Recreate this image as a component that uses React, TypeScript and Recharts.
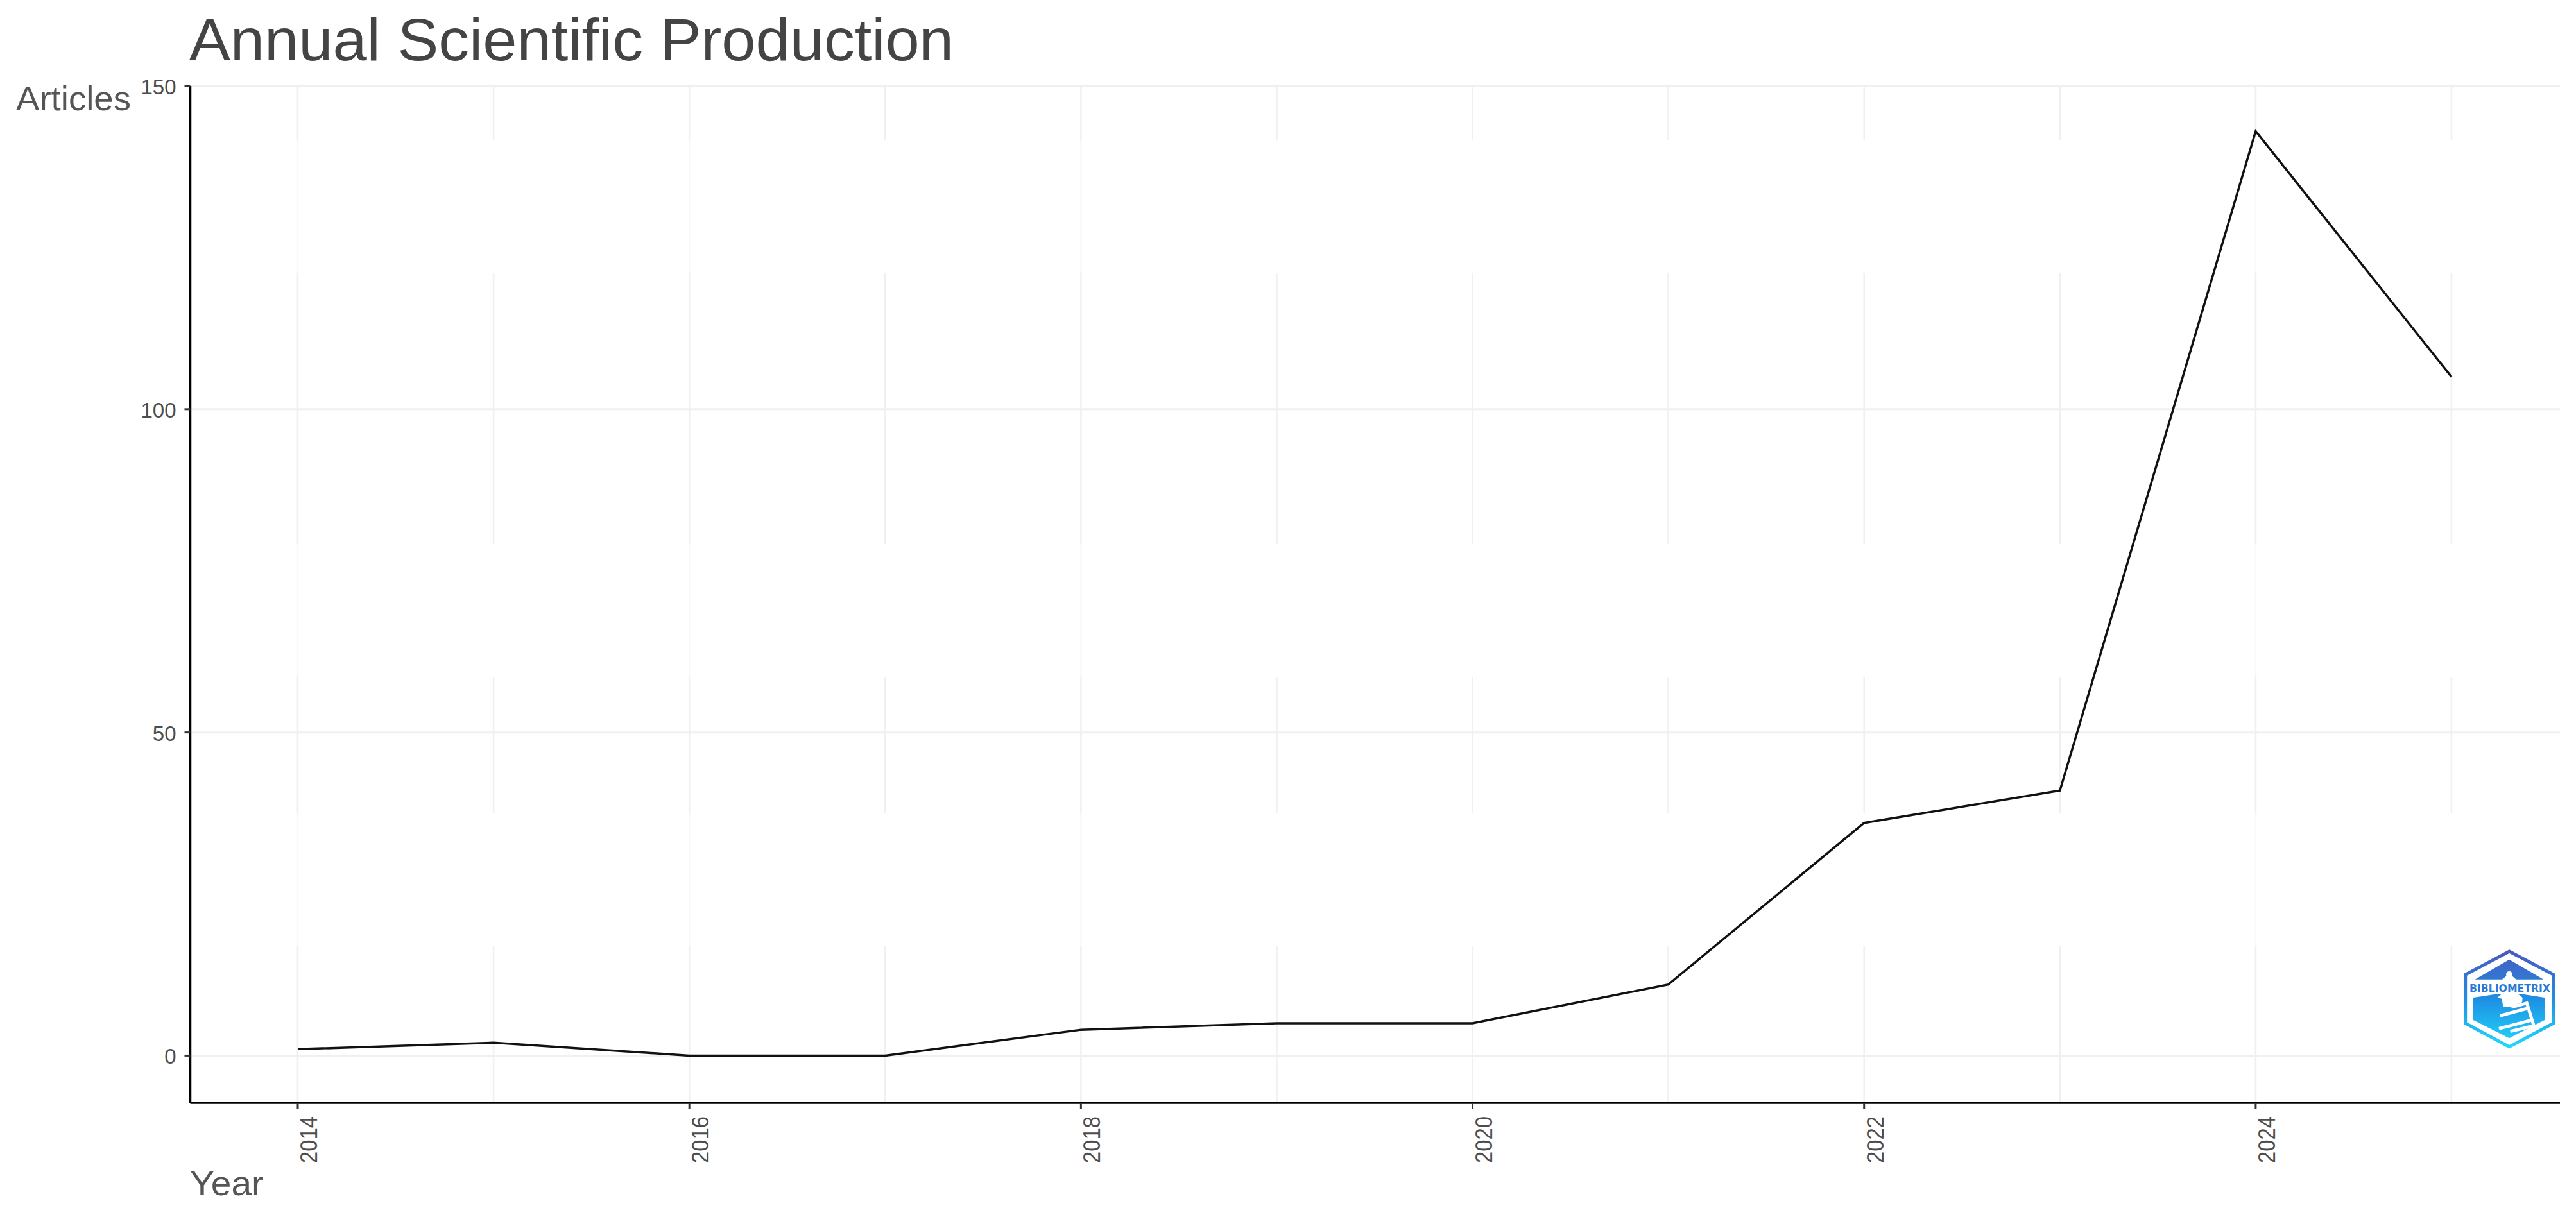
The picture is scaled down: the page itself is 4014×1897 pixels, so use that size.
import { CartesianGrid, Line, LineChart, XAxis, YAxis } from "recharts"

const years = [2014, 2015, 2016, 2017, 2018, 2019, 2020, 2021, 2022, 2023, 2024, 2025]
const articles = [1, 2, 0, 0, 4, 5, 5, 11, 36, 41, 143, 105]
const xTicks = [2014, 2016, 2018, 2020, 2022, 2024]
const yTicks = [0, 50, 100, 150]
const solidGridYears = [2014, 2016, 2018, 2024]

const data = years.map((year, i) => ({ year, articles: articles[i] }))

const font = "'Liberation Sans', Arial, sans-serif"

function YearTick({ x, y, payload }: any) {
  // labels sit right of the tick, reading bottom to top
  return (
    <text
      transform={`translate(${x + 30},${y + 83}) rotate(-90)`}
      textAnchor="start"
      fontFamily={font}
      fontSize={36}
      fill="#4d4d4d"
      textLength={73}
      lengthAdjust="spacingAndGlyphs"
    >
      {payload.value}
    </text>
  )
}

function ArticleTick({ x, y, payload }: any) {
  return (
    <text x={x - 11} y={y + 13} textAnchor="end" fontFamily={font} fontSize={33} fill="#4d4d4d">
      {payload.value}
    </text>
  )
}

// bibliometrix badge, drawn in 3x units so it can be nudged easily
function Logo() {
  return (
    <g transform="translate(3830,1475) scale(0.3333)">
      <defs>
        <linearGradient id="badge" gradientUnits="userSpaceOnUse" x1="0" y1="15" x2="0" y2="478">
          <stop offset="0%" stopColor="#4b57bd" />
          <stop offset="50%" stopColor="#1f8fe3" />
          <stop offset="100%" stopColor="#1fdcfc" />
        </linearGradient>
      </defs>
      <polygon points="240,24 447,133 447,360 240,470 35,360 35,133" fill="none" stroke="url(#badge)" strokeWidth={15} />
      <polygon points="240,62 400,155 80,155" fill="url(#badge)" />
      <polygon points="72,240 190,222 290,222 405,240 405,345 240,430 72,345" fill="url(#badge)" />
      <circle cx={240} cy={132} r={15} fill="#fff" />
      <polygon points="225,140 255,140 272,155 276,180 204,180 208,155" fill="#fff" />
      <polygon points="185,240 205,222 280,222 302,240 300,262 240,285 212,285 205,245" fill="#fff" />
      <path
        d="M250,285 L322,266 L355,372 L245,398 M197,325 L335,288 M192,385 L342,346"
        stroke="#fff"
        strokeWidth={15}
        fill="none"
      />
      <text
        x={243}
        y={212}
        textAnchor="middle"
        fontFamily="'DejaVu Sans', sans-serif"
        fontWeight={700}
        fontSize={48}
        textLength={378}
        lengthAdjust="spacingAndGlyphs"
        fill="#2a7ad6"
      >
        BIBLIOMETRIX
      </text>
    </g>
  )
}

export default function App() {
  return (
    <div style={{ position: "absolute", left: 0, top: 0, width: 4014, height: 1897, background: "#fff" }}>
      <LineChart width={4014} height={1897} data={data} margin={{ top: 134, right: 25, left: 0, bottom: 0 }}>
        <CartesianGrid horizontal={false} verticalValues={solidGridYears} stroke="#f8f8f8" strokeWidth={2.5} />
        <CartesianGrid
          horizontal={false}
          verticalValues={years}
          stroke="#f0f0f0"
          strokeWidth={2.5}
          strokeDasharray="84 207 423 207 212 208 300"
        />
        <CartesianGrid vertical={false} horizontalValues={yTicks} stroke="#f0f0f0" strokeWidth={3} />
        <XAxis
          dataKey="year"
          type="number"
          domain={[2013.451, 2025.554]}
          allowDataOverflow
          ticks={xTicks}
          interval={0}
          height={178}
          tickSize={9}
          tick={YearTick}
          axisLine={{ stroke: "#000", strokeWidth: 3.5 }}
          tickLine={{ stroke: "#333", strokeWidth: 3 }}
        />
        <YAxis
          type="number"
          domain={[-7.3, 150]}
          allowDataOverflow
          ticks={yTicks}
          interval={0}
          width={296.5}
          tickSize={9}
          tick={ArticleTick}
          axisLine={{ stroke: "#000", strokeWidth: 3.5 }}
          tickLine={{ stroke: "#333", strokeWidth: 3 }}
        />
        <Line
          type="linear"
          dataKey="articles"
          stroke="#111"
          strokeWidth={3.5}
          dot={false}
          activeDot={false}
          isAnimationActive={false}
        />
        <text x={295} y={94} fontFamily={font} fontSize={92} fill="#444" textLength={1191} lengthAdjust="spacingAndGlyphs">
          Annual Scientific Production
        </text>
        <text x={25} y={172} fontFamily={font} fontSize={53} fill="#555" textLength={179} lengthAdjust="spacingAndGlyphs">
          Articles
        </text>
        <text x={296} y={1863} fontFamily={font} fontSize={53} fill="#555" textLength={115} lengthAdjust="spacingAndGlyphs">
          Year
        </text>
        <Logo />
      </LineChart>
    </div>
  )
}
